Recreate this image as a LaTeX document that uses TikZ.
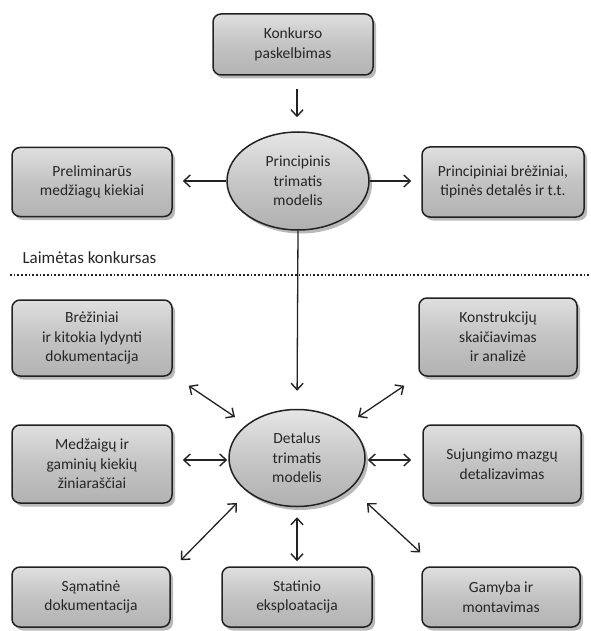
\documentclass[tikz,border=0pt]{standalone}
\usepackage{fontspec}
\setmainfont{Carlito}
\usetikzlibrary{shapes.geometric,shadows,arrows.meta,calc}
\definecolor{txt}{HTML}{262626}
\definecolor{edge}{HTML}{222222}
\begin{document}
\begin{tikzpicture}[x=1pt,y=-1pt,
  every node/.style={font=\fontsize{15.5}{19.5}\selectfont, text=txt},
  boxnode/.style={draw=edge, line width=1.5pt, rounded corners=8pt,
    top color=gray!25, bottom color=gray!60, middle color=gray!47,
    align=center, inner sep=2pt,
    drop shadow={shadow xshift=3pt, shadow yshift=-3.5pt, opacity=.55}},
  ellnode/.style={ellipse, draw=edge, line width=1.5pt,
    top color=gray!20, bottom color=gray!62, middle color=gray!44,
    align=center, inner sep=0pt,
    drop shadow={shadow xshift=3pt, shadow yshift=-3.5pt, opacity=.55}},
  arr/.style={draw=edge, line width=1.3pt, -{Straight Barb[length=6.5pt,width=12pt,line width=1.4pt]}},
  dbl/.style={draw=edge, line width=1.3pt, {Straight Barb[length=6.5pt,width=12pt,line width=1.4pt]}-{Straight Barb[length=6.5pt,width=12pt,line width=1.4pt]}}
]
\useasboundingbox (0,0) rectangle (590,631);

% nodes
\node[boxnode, minimum width=160pt, minimum height=61pt] (t) at (293,44.5) {Konkurso\\paskelbimas};
\node[ellnode, minimum width=142pt, minimum height=98pt] (e1) at (298,181) {Principinis\\trimatis\\modelis};
\node[boxnode, minimum width=160pt, minimum height=69pt] (pl) at (92,182) {Preliminarūs\\medžiagų kiekiai};
\node[boxnode, minimum width=162pt, minimum height=70pt] (pr) at (503,182) {Principiniai brėžiniai,\\tipinės detalės ir t.t.};

\node[anchor=west, font=\fontsize{17}{20}\selectfont] (lk) at (19,258) {Laimėtas konkursas};
\coordinate (dl) at (10,275);
\coordinate (dr) at (590,275);

\node[boxnode, minimum width=160pt, minimum height=76pt] (b1) at (92,338) {Brėžiniai\\ir kitokia lydynti\\dokumentacija};
\node[boxnode, minimum width=158pt, minimum height=78pt] (b2) at (498,337) {Konstrukcijų\\skaičiavimas\\ir analizė};
\node[boxnode, minimum width=160pt, minimum height=78pt] (m1) at (92,464) {Medžaigų ir\\gaminių kiekių\\žiniaraščiai};
\node[boxnode, minimum width=158pt, minimum height=78pt] (m2) at (502,464) {Sujungimo mazgų\\detalizavimas};
\node[ellnode, minimum width=136pt, minimum height=97pt] (e2) at (297,458) {Detalus\\trimatis\\modelis};

\node[boxnode, minimum width=158pt, minimum height=60pt] (s1) at (91,597) {Sąmatinė\\dokumentacija};
\node[boxnode, minimum width=150pt, minimum height=60pt] (s2) at (297,597) {Statinio\\eksploatacija};
\node[boxnode, minimum width=158pt, minimum height=60pt] (s3) at (501,597) {Gamyba ir\\montavimas};

% dotted separator
\draw[line width=1.7pt, dotted, edge] (dl) -- (dr);

% connectors
\draw[arr, shorten <=13pt, shorten >=14pt] (t.south -| e1.north) ++(-1,0) coordinate (tt) (tt) -- (tt |- e1.north);
\draw[arr, shorten >=10pt] (e1.west) -- (e1.west -| pl.east);
\draw[arr, shorten >=10pt] (e1.east) -- (e1.east -| pr.west);
\draw[arr, shorten <=0pt, shorten >=18pt] (e1.south) -- (e2.north);

\draw[dbl, shorten <=10pt, shorten >=1pt] (m1.east |- 0,460) -- (e2.west |- 0,460);
\draw[dbl, shorten <=2pt, shorten >=11pt] (e2.east |- 0,460) -- (m2.west |- 0,460);
\draw[dbl, shorten <=10pt, shorten >=5pt] (e2.south) -- (s2.north);

\draw[dbl] ($(b1.south east)+(16,9)$) -- ($(e2)+(-62,-41)$);
\draw[dbl] ($(b2.south west)+(-14,9)$) -- ($(e2)+(61,-41)$);
\draw[dbl] ($(e2)+(-60,45)$) -- ($(s1.north east)+(10,-6)$);
\draw[dbl] ($(e2)+(70,45)$) -- ($(s3.north west)+(-1,-14)$);
\end{tikzpicture}
\end{document}
